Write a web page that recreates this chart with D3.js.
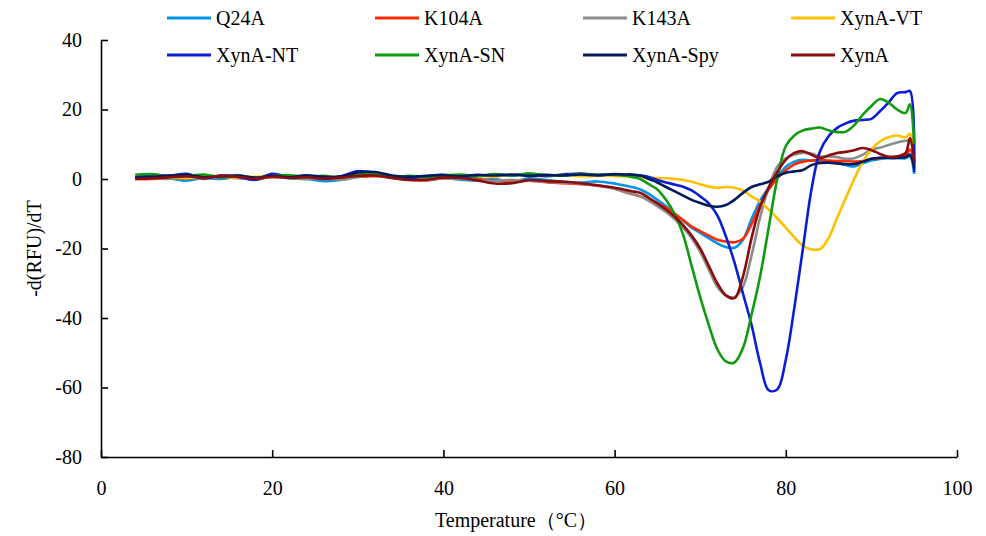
<!DOCTYPE html>
<html>
<body style="margin:0;background:#fff">
<meta charset="UTF-8">
<title>-d(RFU)/dT melt curves</title>
<style>
    body { font-family: "Liberation Serif", "Times New Roman", serif; }
    .axis path, .axis line { stroke: #000; stroke-width: 1.6px; }
</style>
<div id="chart"></div>
<script src="https://d3js.org/d3.v7.min.js"></script>
<script>

    // temperatures (°C) shared by every series
    var temps = [4,6,8,10,12,14,16,18,20,22,24,26,28,30,32,34,36,38,40,42,44,46,48,50,52,54,56,58,60,
        61,62,63,64,65,66,67,68,69,70,71,72,73,74,75,76,77,78,79,80,
        81,82,83,84,85,86,87,88,89,90,91,92,93,94,94.5,95];

    var names = ["Q24A", "K104A", "K143A", "XynA-VT", "XynA-NT", "XynA-SN", "XynA-Spy", "XynA"];
    var colors = ["#0095e8", "#ff2a00", "#8c8c8c", "#ffc000", "#0a1ed6", "#0f9a10", "#041a5e", "#8a0d0d"];

    var q24a = [0.3,0.5,0.2,-0.5,0.3,0.0,0.6,-0.3,0.8,0.2,0.0,-0.6,-0.3,1.0,1.2,0.2,-0.2,0.0,0.3,-0.2,-0.5,0.0,-0.8,0.2,-0.3,-0.8,-1.0,-0.7,-1.3,
        -1.8,-2.3,-3.0,-4.3,-6.0,-7.8,-10,-12,-14,-15.5,-17,-18.5,-19.6,-19.8,-17.5,-11.5,-6.3,-2.5,0.5,3.5,
        5.0,5.5,5.3,5.2,5.0,4.6,4.0,3.6,4.5,5.3,5.8,6.0,6.0,6.0,6.5,1.5];
    var k104a = [0.0,0.0,0.3,0.2,0.6,0.4,0.8,0.2,0.5,0.5,0.3,0.0,0.2,0.6,0.8,0.4,-0.2,-0.4,0.2,0.4,0.0,-0.5,-0.8,-0.5,-0.9,-1.2,-1.5,-1.8,-2.7,
        -3.6,-4.3,-5.0,-5.8,-7.0,-8.2,-10,-11.8,-13.7,-15,-16.3,-17.5,-18,-18.2,-17.2,-13,-7.5,-3.0,0.2,2.5,
        4.2,5,5.3,5.5,5.3,5.2,5.2,5.0,5.2,5.8,6.0,6.3,6.5,6.8,8.5,4.5];
    var k143a = [0.5,0.3,0.0,0.4,0.0,0.6,0.2,0.0,0.6,0.3,0.0,0.3,-0.2,0.6,1.2,0.5,0.0,-0.3,0.2,0.0,-0.3,-0.5,-0.3,-0.5,-0.8,-1.0,-1.3,-2.0,-2.8,
        -3.5,-4.2,-5.0,-6.3,-7.8,-9.5,-11.5,-14,-17,-21,-26,-31,-33.5,-34,-31,-22,-11,-2.5,3.5,6,
        7,7.5,7.3,6.5,6.5,6.3,5.8,6.0,7,8.5,9,9.8,10.5,11,11,5];
    var xynaVT = [0.6,0.8,0.6,0.3,0.9,0.7,0.4,0.6,0.9,0.5,0.8,0.3,0.5,1.3,1.6,0.8,0.6,0.5,0.8,0.6,0.9,0.7,1.2,1.0,0.9,1.3,0.8,0.9,0.9,
        0.8,0.6,0.5,0.4,0.3,0.2,0.0,-0.3,-0.8,-1.5,-2.2,-2.5,-2.3,-2.5,-3.3,-5,-6.5,-8.8,-11.3,-14,
        -16.8,-19.2,-20.3,-20.2,-17,-11.2,-5.5,0,5,8.5,10.8,12,12.5,12,13,8];
    var xynaNT = [0.5,1.3,0.9,1.5,0.2,1.0,0.6,-0.2,1.5,0.6,0.9,0.1,0.8,2.2,1.8,0.7,0.3,0.8,1.2,0.6,0.9,1.3,1.0,1.5,0.8,1.3,1.6,1.1,1.3,
        1.2,1.0,1.0,0.6,-0.3,-1.0,-1.6,-2.2,-3.3,-5.0,-7.0,-10.5,-16.5,-24,-33,-42,-53,-60.8,-60.6,-52,
        -37,-20,-3,8,12.3,14.7,16,16.8,17,17.3,19.5,22,24.7,25,25.3,2];
    var xynaSN = [1.2,1.4,0.6,0.8,1.3,0.5,1.0,0.3,0.8,1.1,0.6,0.9,0.4,1.2,1.5,0.6,0.9,0.6,1.0,1.3,0.8,1.4,1.0,1.6,1.1,1.0,1.4,1.3,1.2,
        1.0,0.6,0.0,-1.5,-3.0,-6.0,-10,-16,-25,-34,-42,-49,-52.5,-52.8,-48.6,-39,-28,-14,0,9.5,
        12.5,14,14.5,14.8,14,13.5,13.6,15.5,18.5,21,23,22,20,19,21.5,10];
    var xynaSpy = [0.3,0.6,1.0,1.2,0.5,0.8,1.0,0.4,0.9,0.5,1.1,0.6,0.7,1.9,2.0,1.0,0.6,0.9,1.1,0.8,1.2,1.0,1.3,0.9,1.2,1.0,1.3,1.1,1.4,
        1.3,1.3,1.0,0.0,-1.0,-2.3,-3.5,-4.8,-6.0,-6.9,-7.7,-8.0,-7.5,-6.0,-4.0,-2.3,-1.5,-0.8,0.8,1.8,
        2.2,2.6,4.0,4.6,4.7,4.5,4.3,4.3,5.0,5.8,6.1,6.1,6.1,6.3,7.0,3];
    var xyna = [0.0,0.2,0.5,0.8,0.3,0.9,0.6,0.1,0.7,0.3,0.5,0.1,0.4,0.9,1.0,0.4,-0.3,-0.2,0.4,0.3,-0.4,-1.3,-1.2,-0.3,-0.6,-0.8,-1.2,-1.8,-2.5,
        -3.0,-3.5,-4.0,-5.4,-7.0,-8.8,-10.8,-13.3,-16.3,-20,-25,-30,-33.5,-34.3,-28,-17,-8,-2.5,2,5.5,
        7.5,8,7,6,6.8,7.5,7.8,8.3,8.9,8.3,7.2,6.4,6.5,7.5,11.8,5];

    var xTicks = [0, 20, 40, 60, 80, 100];
    var yTicks = [-80, -60, -40, -20, 0, 20, 40];

    var values = [q24a, k104a, k143a, xynaVT, xynaNT, xynaSN, xynaSpy, xyna];
    var series = names.map(function(n, i) {
        return { name: n, color: colors[i], points: temps.map(function(t, j) { return [t, values[i][j]]; }) };
    });

    var width = 986, height = 536;
    var margin = { left: 101, right: 29, top: 40, bottom: 79 };
    var serif = "Liberation Serif, Times New Roman, serif";

    var svg = d3.select("#chart").append("svg")
        .attr("width", width)
        .attr("height", height);

    var x = d3.scaleLinear().domain([0, 100]).range([margin.left, width - margin.right]);
    var y = d3.scaleLinear().domain([-80, 40]).range([height - margin.bottom, margin.top]);

    // axes, ticks pointing into the plot, plain hyphen minus
    svg.append("g")
        .attr("class", "axis")
        .attr("transform", "translate(0," + y(-80) + ")")
        .call(d3.axisBottom(x).tickValues(xTicks).tickFormat(function(d) { return String(d); })
            .tickSizeInner(-7).tickSizeOuter(0).tickPadding(24))
        .attr("font-family", serif)
        .attr("font-size", 20);

    svg.append("g")
        .attr("class", "axis")
        .attr("transform", "translate(" + x(0) + ",0)")
        .call(d3.axisLeft(y).tickValues(yTicks).tickFormat(function(d) { return String(d); })
            .tickSizeInner(-7).tickSizeOuter(0).tickPadding(19))
        .attr("font-family", serif)
        .attr("font-size", 20);

    svg.selectAll(".axis text").style("fill", "#000");

    svg.append("text")
        .attr("x", 516)
        .attr("y", 527)
        .attr("text-anchor", "middle")
        .style("font-family", serif)
        .style("font-size", "20px")
        .text("Temperature（°C）");

    svg.append("text")
        .attr("transform", "translate(41," + y(-20) + ") rotate(-90)")
        .attr("text-anchor", "middle")
        .style("font-family", serif)
        .style("font-size", "20px")
        .text("-d(RFU)/dT");

    var line = d3.line()
        .x(function(d) { return x(d[0]); })
        .y(function(d) { return y(d[1]); })
        .curve(d3.curveCatmullRom.alpha(0.5));

    svg.selectAll(".series")
        .data(series)
        .enter().append("path")
        .attr("class", "series")
        .attr("d", function(d) { return line(d.points); })
        .style("fill", "none")
        .style("stroke", function(d) { return d.color; })
        .style("stroke-width", 2.6)
        .style("stroke-linejoin", "round");

    // legend: 4 columns, 2 rows
    var legend = svg.selectAll(".legend")
        .data(series)
        .enter().append("g")
        .attr("class", "legend")
        .attr("transform", function(d, i) {
            return "translate(" + (167 + (i % 4) * 208) + "," + (18 + Math.floor(i / 4) * 37) + ")";
        });

    legend.append("line")
        .attr("x1", 0).attr("x2", 44)
        .style("stroke", function(d) { return d.color; })
        .style("stroke-width", 3);

    legend.append("text")
        .attr("x", 49)
        .attr("dy", "0.35em")
        .style("font-family", serif)
        .style("font-size", "20px")
        .text(function(d) { return d.name; });

</script>
</body>
</html>
